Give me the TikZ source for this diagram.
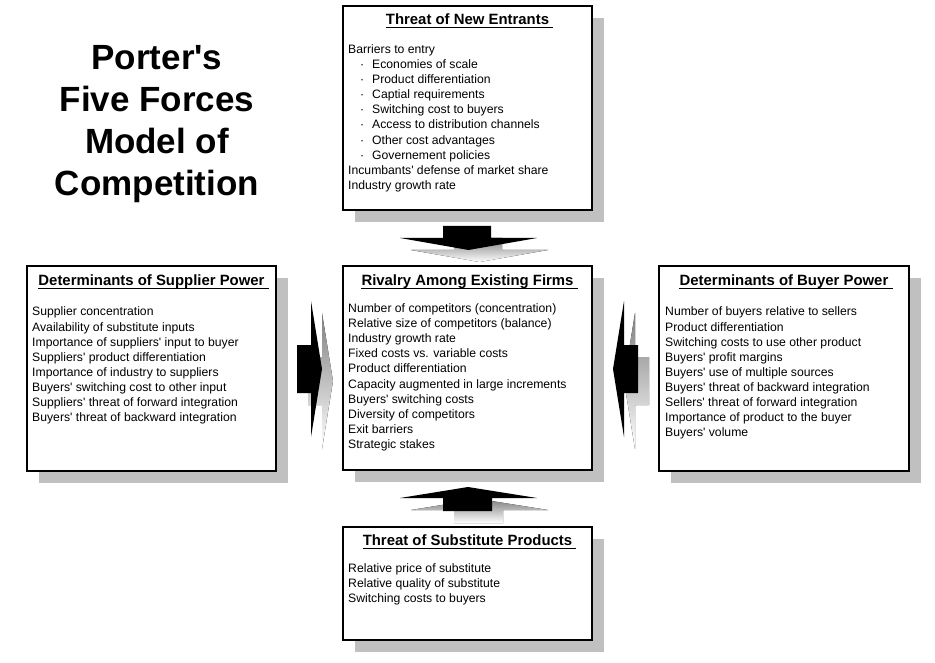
\documentclass[tikz,border=0pt]{standalone}
\usepackage{fontspec}
\setmainfont{Liberation Sans}
\usetikzlibrary{shadows}
\definecolor{shade}{RGB}{192,192,192}
\newcommand{\qs}{\textquotesingle}
\tikzset{
  box/.style={draw=black, line width=1.8pt, fill=white, outer sep=0pt, inner sep=0pt,
    anchor=north west,
    drop shadow={shadow xshift=12pt, shadow yshift=-12pt, fill=shade, opacity=1}},
  hdr/.style={font=\fontsize{14.9}{18}\selectfont\bfseries, inner sep=0pt, anchor=base},
  body/.style={font=\fontsize{12.2}{15}\selectfont, inner sep=0pt, anchor=base west},
  ttl/.style={font=\fontsize{35}{42}\selectfont\bfseries, inner sep=0pt, anchor=base},
  ul/.style={line width=1.4pt},
}
\begin{document}
\begin{tikzpicture}[x=1pt,y=-1pt]
\useasboundingbox[fill=white] (0,0) rectangle (935,663);

% title
\node[ttl] (t1) at (157,70) {Porter\qs s};
\node[ttl] (t2) at (157,112) {Five Forces};
\node[ttl] (t3) at (157,154) {Model of};
\node[ttl] (t4) at (157,196) {Competition};

% boxes
\node[box, minimum width=249pt, minimum height=204pt] (entrants) at (343,6) {};
\node[box, minimum width=249pt, minimum height=204pt] (rivalry) at (343,266) {};
\node[box, minimum width=249pt, minimum height=113pt] (subst) at (343,527) {};
\node[box, minimum width=249pt, minimum height=205pt] (supplier) at (27,266) {};
\node[box, minimum width=250pt, minimum height=205pt] (buyer) at (659,266) {};

% block arrows (shadow first, then black)
\foreach \s/\c in {{(11,12)}/shade, {(0,0)}/black} {
  % down arrow (new entrants -> rivalry)
  \fill[\c, shift=\s] (443,226) -- (491,226) -- (491,238) -- (537,238) -- (468.5,250)
     -- (400,238) -- (443,238) -- cycle;
  % up arrow (substitutes -> rivalry)
  \fill[\c, shift=\s] (443,511) -- (492,511) -- (492,498) -- (537,498) -- (468,487)
     -- (400,498) -- (443,498) -- cycle;
  % right arrow (supplier -> rivalry)
  \fill[\c, shift=\s] (297,345) -- (311,345) -- (311,301) -- (322,369) -- (311,437)
     -- (311,393) -- (297,393) -- cycle;
  % left arrow (buyer -> rivalry)
  \fill[\c, shift=\s] (638,345) -- (624,345) -- (624,301) -- (613,369) -- (624,437)
     -- (624,393) -- (638,393) -- cycle;
}

% headers
\node[hdr] (he) at (467.5,25) {Threat of New Entrants};
\draw[ul] ([yshift=-2.8pt]he.base west) -- ([xshift=4pt,yshift=-2.8pt]he.base east);
\node[hdr] (hr) at (467.5,285.5) {Rivalry Among Existing Firms};
\draw[ul] ([yshift=-2.8pt]hr.base west) -- ([xshift=4pt,yshift=-2.8pt]hr.base east);
\node[hdr] (hs) at (467.5,545.5) {Threat of Substitute Products};
\draw[ul] ([yshift=-2.8pt]hs.base west) -- ([xshift=4pt,yshift=-2.8pt]hs.base east);
\node[hdr] (hp) at (151.5,285.5) {Determinants of Supplier Power};
\draw[ul] ([yshift=-2.8pt]hp.base west) -- ([xshift=4pt,yshift=-2.8pt]hp.base east);
\node[hdr] (hb) at (784,285.5) {Determinants of Buyer Power};
\draw[ul] ([yshift=-2.8pt]hb.base west) -- ([xshift=4pt,yshift=-2.8pt]hb.base east);

% new entrants text
\node[body] (e0) at (348,53.5) {Barriers to entry};
\foreach \t [count=\i] in {Economies of scale, Product differentiation, Captial requirements,
    Switching cost to buyers, Access to distribution channels, Other cost advantages,
    Governement policies} {
  \node[body] (ed\i) at (360,{53.5+15.1*\i}) {·};
  \node[body] (e\i) at (372,{53.5+15.1*\i}) {\t};
}
\node[body] (e8) at (348,{53.5+15.1*8}) {Incumbants\qs{} defense of market share};
\node[body] (e9) at (348,{53.5+15.1*9}) {Industry growth rate};

% rivalry text
\foreach \t [count=\i from 0] in {Number of competitors (concentration),
    Relative size of competitors (balance), Industry growth rate,
    Fixed costs vs. variable costs, Product differentiation,
    Capacity augmented in large increments, Buyers\qs{} switching costs,
    Diversity of competitors, Exit barriers, Strategic stakes}
  \node[body] (r\i) at (348,{312.5+15.1*\i}) {\t};

% supplier text
\foreach \t [count=\i from 0] in {Supplier concentration, Availability of substitute inputs,
    Importance of suppliers\qs{} input to buyer, Suppliers\qs{} product differentiation,
    Importance of industry to suppliers, Buyers\qs{} switching cost to other input,
    Suppliers\qs{} threat of forward integration, Buyers\qs{} threat of backward integration}
  \node[body] (p\i) at (32,{316+15.1*\i}) {\t};

% buyer text
\foreach \t [count=\i from 0] in {Number of buyers relative to sellers, Product differentiation,
    Switching costs to use other product, Buyers\qs{} profit margins,
    Buyers\qs{} use of multiple sources, Buyers\qs{} threat of backward integration,
    Sellers\qs{} threat of forward integration, Importance of product to the buyer,
    Buyers\qs{} volume}
  \node[body] (b\i) at (665,{316+15.1*\i}) {\t};

% substitutes text
\foreach \t [count=\i from 0] in {Relative price of substitute, Relative quality of substitute,
    Switching costs to buyers}
  \node[body] (s\i) at (348,{572.5+15.1*\i}) {\t};
\end{tikzpicture}
\end{document}
